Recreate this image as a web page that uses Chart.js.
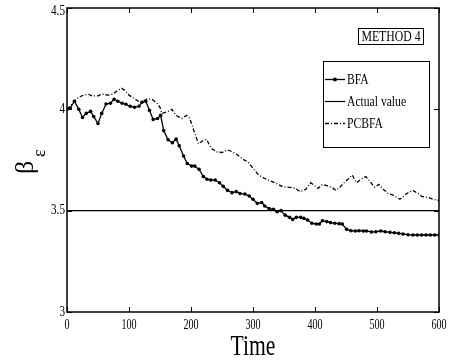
<!DOCTYPE html>
<html>
<head>
<meta charset="utf-8">
<script src="https://cdn.jsdelivr.net/npm/chart.js@4"></script>
<style>
  html, body { margin: 0; padding: 0; background: #fff; }
  #wrap { width: 453px; height: 363px; }
</style>
</head>
<body>
<div id="wrap"><canvas id="chart" width="453" height="363"></canvas></div>
<script>
const bfaTime = [0, 5, 12, 19, 25, 31, 38, 43, 50, 56, 63, 70, 76, 82, 89, 95, 102, 109, 116, 121,
  127, 133, 139, 146, 151, 156, 163, 170, 176, 181, 188, 194, 201, 206, 213, 220, 226, 232, 239, 246,
  252, 259, 266, 273, 279, 287, 294, 300, 307, 314, 319, 326, 333, 339, 345, 352, 359, 364, 370, 377,
  382, 388, 395, 402, 407, 412, 419, 425, 432, 439, 444, 451, 458, 465, 471, 478, 483, 491, 498, 506,
  513, 521, 528, 535, 542, 550, 558, 565, 572, 579, 586, 593, 600];
const bfaValue = [4.00, 4.005, 4.04, 4.00, 3.96, 3.98, 3.99, 3.965, 3.93, 3.98, 4.026, 4.03, 4.05, 4.04, 4.03, 4.025, 4.015, 4.01, 4.015, 4.035,
  4.04, 3.995, 3.95, 3.955, 3.97, 3.895, 3.85, 3.835, 3.853, 3.82, 3.77, 3.733, 3.72, 3.72, 3.704, 3.668, 3.655, 3.651, 3.651, 3.638,
  3.62, 3.60, 3.589, 3.594, 3.585, 3.582, 3.572, 3.556, 3.536, 3.54, 3.523, 3.51, 3.507, 3.495, 3.50, 3.478, 3.467, 3.457, 3.467, 3.467,
  3.462, 3.454, 3.438, 3.434, 3.434, 3.45, 3.446, 3.441, 3.438, 3.436, 3.434, 3.408, 3.401, 3.40, 3.401, 3.40, 3.40, 3.395, 3.396, 3.40,
  3.396, 3.393, 3.391, 3.388, 3.385, 3.381, 3.38, 3.38, 3.38, 3.38, 3.38, 3.38, 3.38];

const pcTime = [0, 12, 19, 27, 34, 41, 50, 56, 66, 74, 81, 88, 94, 100, 108, 115, 121, 129, 137, 145,
  150, 153, 161, 169, 176, 185, 193, 198, 204, 212, 219, 225, 233, 241, 250, 259, 267, 275, 284, 292,
  300, 309, 318, 327, 337, 348, 359, 368, 376, 385, 393, 400, 405, 412, 420, 427, 434, 440, 446, 453,
  460, 467, 474, 482, 489, 496, 503, 510, 518, 526, 537, 548, 558, 567, 573, 582, 591, 600];
const pcValue = [4.00, 4.04, 4.06, 4.07, 4.075, 4.066, 4.066, 4.075, 4.07, 4.075, 4.092, 4.104, 4.092, 4.07, 4.054, 4.04, 4.037, 4.05, 4.05, 4.03,
  4.01, 3.98, 3.987, 4.0, 3.97, 3.955, 3.97, 3.955, 3.90, 3.83, 3.845, 3.852, 3.807, 3.79, 3.787, 3.80, 3.79, 3.775, 3.753, 3.74,
  3.709, 3.676, 3.66, 3.648, 3.635, 3.618, 3.615, 3.61, 3.594, 3.605, 3.638, 3.622, 3.61, 3.63, 3.622, 3.615, 3.60, 3.615, 3.635, 3.655,
  3.676, 3.638, 3.655, 3.668, 3.643, 3.615, 3.63, 3.605, 3.585, 3.577, 3.556, 3.585, 3.60, 3.582, 3.569, 3.566, 3.556, 3.55];

const actualTime = [0, 600];
const actualValue = [3.5, 3.5];

const xTicks = [0, 100, 200, 300, 400, 500, 600];
const yTicks = [3, 3.5, 4, 4.5];
const seriesNames = ['BFA', 'Actual value', 'PCBFA'];
const boxLabel = 'METHOD 4';

const pts = (xs, ys) => xs.map((x, i) => ({ x: x, y: ys[i] }));
const serif = '"Liberation Serif", "Times New Roman", serif';

// squeezed serif text, like the original figure
function narrowText(ctx, text, x, y, size, sx, align, base) {
  ctx.save();
  ctx.translate(x, y);
  ctx.scale(sx, 1);
  ctx.font = size + 'px ' + serif;
  ctx.textAlign = align;
  ctx.textBaseline = base;
  ctx.fillText(text, 0, 0);
  ctx.restore();
}

// frame, inward ticks, tick labels, titles and the two boxes
const decor = {
  id: 'decor',
  afterDraw(chart) {
    const ctx = chart.ctx;
    const a = chart.chartArea;
    const xs = chart.scales.x, ys = chart.scales.y;
    ctx.save();
    ctx.strokeStyle = '#000';
    ctx.fillStyle = '#000';
    ctx.lineWidth = 1.5;
    ctx.strokeRect(a.left, a.top, a.right - a.left, a.bottom - a.top);
    ctx.lineWidth = 1;
    ctx.beginPath();
    xTicks.forEach(v => {
      const px = Math.round(xs.getPixelForValue(v)) + 0.5;
      ctx.moveTo(px, a.bottom); ctx.lineTo(px, a.bottom - 5);
      ctx.moveTo(px, a.top); ctx.lineTo(px, a.top + 5);
    });
    yTicks.forEach(v => {
      const py = Math.round(ys.getPixelForValue(v)) + 0.5;
      ctx.moveTo(a.left, py); ctx.lineTo(a.left + 5, py);
      ctx.moveTo(a.right, py); ctx.lineTo(a.right - 5, py);
    });
    ctx.stroke();

    // tick labels
    xTicks.forEach(v => {
      narrowText(ctx, String(v), xs.getPixelForValue(v), a.bottom + 6, 14, 0.72, 'center', 'top');
    });
    yTicks.forEach(v => {
      const py = Math.max(ys.getPixelForValue(v), a.top + 3);
      narrowText(ctx, String(v), a.left - 2, py, 14, 0.8, 'right', 'middle');
    });

    // x title
    narrowText(ctx, 'Time', (a.left + a.right) / 2, 355, 30, 0.72, 'center', 'alphabetic');

    // y title: beta with subscript epsilon
    ctx.save();
    ctx.translate(33, 174);
    ctx.rotate(-Math.PI / 2);
    ctx.font = '26px ' + serif;
    ctx.textAlign = 'left';
    ctx.textBaseline = 'alphabetic';
    ctx.fillText('\u03B2', 0, 0);
    ctx.font = '18px ' + serif;
    ctx.fillText('\u03B5', 17, 12);
    ctx.restore();

    // METHOD 4 box
    ctx.lineWidth = 1;
    ctx.strokeRect(358.5, 28.5, 65, 16);
    narrowText(ctx, boxLabel, 391, 37, 14, 0.84, 'center', 'middle');

    // legend box
    ctx.fillStyle = '#fff';
    ctx.fillRect(323.5, 61.5, 106, 86);
    ctx.strokeRect(323.5, 61.5, 106, 86);
    ctx.fillStyle = '#000';
    const rows = [79, 101, 123];
    const sets = chart.data.datasets;
    rows.forEach((ry, i) => {
      const ds = sets[i];
      ctx.save();
      ctx.lineWidth = ds.borderWidth;
      ctx.setLineDash(ds.borderDash || []);
      ctx.beginPath();
      ctx.moveTo(325, ry + 0.5); ctx.lineTo(345, ry + 0.5);
      ctx.stroke();
      ctx.restore();
      if (ds.pointRadius > 0) {
        ctx.beginPath();
        ctx.arc(335, ry + 0.5, 2, 0, Math.PI * 2);
        ctx.fill();
      }
      narrowText(ctx, seriesNames[i], 347, ry + 1, 14, 0.83, 'left', 'middle');
    });
    ctx.restore();
  }
};

new Chart(document.getElementById('chart').getContext('2d'), {
  type: 'line',
  data: {
    datasets: [
      {
        label: seriesNames[0],
        data: pts(bfaTime, bfaValue),
        borderColor: '#000',
        backgroundColor: '#000',
        borderWidth: 1.3,
        pointRadius: 1.8,
        pointBorderWidth: 0,
        tension: 0
      },
      {
        label: seriesNames[1],
        data: pts(actualTime, actualValue),
        borderColor: '#000',
        borderWidth: 1.2,
        pointRadius: 0,
        tension: 0
      },
      {
        label: seriesNames[2],
        data: pts(pcTime, pcValue),
        borderColor: '#000',
        borderWidth: 1.3,
        borderDash: [4, 2, 1, 2],
        pointRadius: 0,
        tension: 0
      }
    ]
  },
  options: {
    responsive: false,
    animation: false,
    events: [],
    layout: { padding: { left: 0, top: 8, right: 14, bottom: 0 } },
    plugins: { legend: { display: false }, tooltip: { enabled: false } },
    scales: {
      x: {
        type: 'linear',
        min: 0,
        max: 600,
        afterFit: s => { s.height = 51; },
        afterBuildTicks: s => { s.ticks = xTicks.map(v => ({ value: v })); },
        grid: { display: false },
        border: { display: false },
        ticks: { display: false }
      },
      y: {
        type: 'linear',
        min: 3,
        max: 4.5,
        afterFit: s => { s.width = 67; },
        afterBuildTicks: s => { s.ticks = yTicks.map(v => ({ value: v })); },
        grid: { display: false },
        border: { display: false },
        ticks: { display: false }
      }
    }
  },
  plugins: [decor]
});
</script>
</body>
</html>
